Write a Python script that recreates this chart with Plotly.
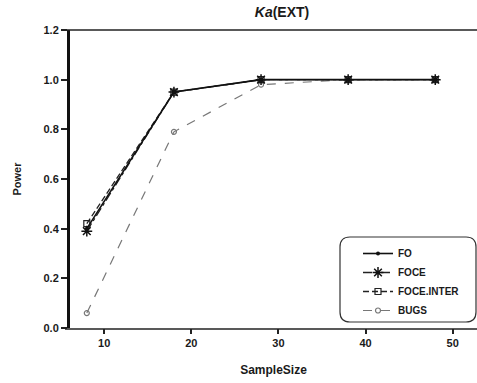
import plotly.graph_objects as go

sample_size = [8, 18, 28, 38, 48]
power_fo = [0.40, 0.95, 1.00, 1.00, 1.00]
power_foce = [0.39, 0.95, 1.00, 1.00, 1.00]
power_foce_inter = [0.42, 0.95, 1.00, 1.00, 1.00]
power_bugs = [0.06, 0.79, 0.98, 1.00, 1.00]

x_ticks = [10, 20, 30, 40, 50]
y_ticks = [0.0, 0.2, 0.4, 0.6, 0.8, 1.0, 1.2]
y_tick_text = ["0.0", "0.2", "0.4", "0.6", "0.8", "1.0", "1.2"]

FONT = "Liberation Sans, Arial, sans-serif"
TXT = "#1a1a1a"

fig = go.Figure()
fig.add_trace(go.Scatter(
    x=sample_size, y=power_bugs, name="BUGS", mode="lines+markers",
    line=dict(color="#777777", width=1.2, dash="dash"),
    marker=dict(symbol="circle-open", size=5, color="#777777", line=dict(width=1.2)),
))
fig.add_trace(go.Scatter(
    x=sample_size, y=power_foce_inter, name="FOCE.INTER", mode="lines+markers",
    line=dict(color="#222222", width=1.3, dash="6px,3px"),
    marker=dict(symbol="square-open", size=6, color="#222222", line=dict(width=1.2)),
))
fig.add_trace(go.Scatter(
    x=sample_size, y=power_foce, name="FOCE", mode="lines+markers",
    line=dict(color="#222222", width=1.3, dash="dashdot"),
    marker=dict(symbol="asterisk-open", size=9, color="#111111", line=dict(width=1.5, color="#111111")),
))
fig.add_trace(go.Scatter(
    x=sample_size, y=power_fo, name="FO", mode="lines+markers",
    line=dict(color="#111111", width=1.6),
    marker=dict(symbol="circle", size=4, color="#111111"),
))

# frame lines (top and bottom) extending slightly left of the y-axis
ext = -5 / 407
fig.add_shape(type="line", xref="paper", yref="paper", x0=ext, x1=1.0, y0=1, y1=1,
              line=dict(color="#222222", width=1.5))
fig.add_shape(type="line", xref="paper", yref="paper", x0=ext, x1=1.0, y0=-0.003, y1=-0.003,
              line=dict(color="#222222", width=1.5))

# rounded legend box
x0p, x1p = (340 - 70) / 407, (476 - 70) / 407
y0p, y1p = (328 - 322) / 298, (328 - 237) / 298
rx, ry = 10 / 407, 10 / 298
path = (f"M {x0p+rx},{y0p} L {x1p-rx},{y0p} Q {x1p},{y0p} {x1p},{y0p+ry} "
        f"L {x1p},{y1p-ry} Q {x1p},{y1p} {x1p-rx},{y1p} "
        f"L {x0p+rx},{y1p} Q {x0p},{y1p} {x0p},{y1p-ry} "
        f"L {x0p},{y0p+ry} Q {x0p},{y0p} {x0p+rx},{y0p} Z")
fig.add_shape(type="path", xref="paper", yref="paper", path=path,
              line=dict(color="#333333", width=1.2))

fig.update_layout(
    width=477, height=383,
    margin=dict(l=70, r=0, t=30, b=55),
    paper_bgcolor="white", plot_bgcolor="white",
    font=dict(family=FONT, color=TXT, size=11, weight="bold"),
    title=dict(text="<i>Ka</i>(EXT)", x=282 / 477, xanchor="center", y=1 - 12 / 383, yanchor="middle",
               font=dict(family=FONT, size=14, color=TXT, weight="bold")),
    showlegend=True,
    legend=dict(x=(358 - 70) / 407, y=(328 - 239) / 298, xanchor="left", yanchor="top",
                traceorder="reversed", bgcolor="rgba(0,0,0,0)", borderwidth=0,
                font=dict(family=FONT, size=10, color=TXT, weight="bold"),
                itemwidth=30, tracegroupgap=0),
    xaxis=dict(range=[6.07, 52.79], tickvals=x_ticks, ticks="outside", ticklen=5, tickwidth=1.5,
               tickcolor="#222222", showline=False, showgrid=False, zeroline=False,
               title=dict(text="SampleSize", standoff=17, font=dict(size=12, weight="bold")),
               tickfont=dict(size=11, weight="bold")),
    yaxis=dict(range=[0, 1.2], tickvals=y_ticks, ticktext=y_tick_text, ticks="outside", ticklen=6,
               tickwidth=1.5, tickcolor="#222222", showline=True, linewidth=3, linecolor="#111111",
               showgrid=False, zeroline=False,
               title=dict(text="Power", standoff=20, font=dict(size=11, weight="bold")),
               tickfont=dict(size=11, weight="bold")),
)

fig.write_html("out.html")
